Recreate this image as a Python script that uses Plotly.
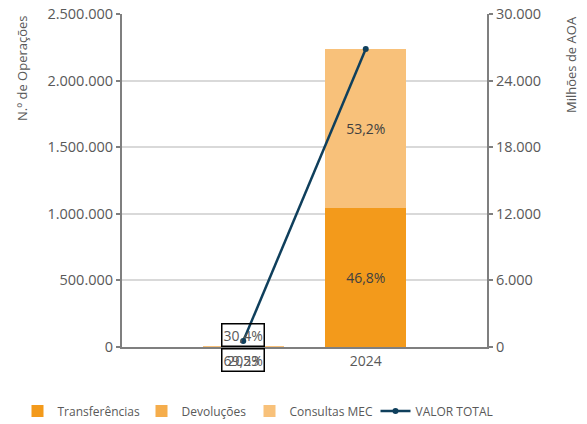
import plotly.graph_objects as go
from plotly.subplots import make_subplots

years = ["2023", "2024"]
transferencias = [2085, 1046000]
devolucoes = [3, 0]
consultas_mec = [912, 1189000]
valor_total = [540, 26850]
pct_transf = ["69,5%", "46,8%"]
pct_consultas = ["30,4%", "53,2%"]

c_transf = "#F39A1B"
c_dev = "#F5AD4C"
c_cons = "#F8C17A"
c_line = "#0F3F5C"
txt = "#595959"
font_family = "Open Sans, Liberation Sans, sans-serif"

W, H = 587, 424
ml, mr, mt, mb = 122, 100, 14, 77
pw, ph = W - ml - mr, H - mt - mb


def px_x(sx):
    return (sx - ml) / pw


def px_y(sy):
    return 1 - (sy - mt) / ph


fig = make_subplots(specs=[[{"secondary_y": True}]])

fig.add_trace(go.Bar(x=years, y=transferencias, name="Transferências", marker_color=c_transf,
                     marker_line_width=0, legend="legend",
                     width=0.66, text=["", pct_transf[1]], textposition="inside",
                     insidetextanchor="middle", textfont=dict(color="#404040", size=14)),
              secondary_y=False)
fig.add_trace(go.Bar(x=years, y=devolucoes, name="Devoluções", marker_color=c_dev,
                     marker_line_width=0, width=0.66, legend="legend2"),
              secondary_y=False)
fig.add_trace(go.Bar(x=years, y=consultas_mec, name="Consultas MEC", marker_color=c_cons,
                     marker_line_width=0, legend="legend3",
                     width=0.66, text=["", pct_consultas[1]], textposition="inside",
                     insidetextanchor="middle", textfont=dict(color="#404040", size=14)),
              secondary_y=False)
fig.add_trace(go.Scatter(x=years, y=valor_total, name="VALOR TOTAL", mode="lines+markers",
                         legend="legend4",
                         line=dict(color=c_line, width=2.5), marker=dict(size=6, color=c_line)),
              secondary_y=True)

# 2023 callout labels
fig.add_annotation(x=0, xref="x", y=0, yref="paper", yshift=12, yanchor="middle",
                   text=pct_consultas[0], showarrow=False,
                   bordercolor="#000000", borderwidth=1.5, borderpad=1,
                   font=dict(color=txt, size=14, family=font_family))
fig.add_annotation(x=0, xref="x", y=0, yref="paper", yshift=-12.5, yanchor="middle",
                   text=pct_transf[0], showarrow=False,
                   bordercolor="#000000", borderwidth=1.5, borderpad=1,
                   font=dict(color=txt, size=14, family=font_family))

# axis titles (top-aligned as in reference)
fig.add_annotation(x=px_x(22), xref="paper", y=px_y(68), yref="paper",
                   xanchor="center", yanchor="middle",
                   text="N.º de Operações", showarrow=False, textangle=-90,
                   font=dict(size=13, color=txt, family=font_family))
fig.add_annotation(x=px_x(571), xref="paper", y=px_y(65), yref="paper",
                   xanchor="center", yanchor="middle",
                   text="Milhões de AOA", showarrow=False, textangle=-90,
                   font=dict(size=13, color=txt, family=font_family))

leg_y = 1 - 411 / H
leg_common = dict(orientation="h", xref="container", yref="container", y=leg_y,
                  yanchor="middle", xanchor="left", font=dict(size=12, color=txt),
                  itemwidth=30, bgcolor="rgba(0,0,0,0)")
leg_text_x = [58, 182, 290, 416]
legs = {}
for i, tx in enumerate(leg_text_x):
    key = "legend" if i == 0 else f"legend{i + 1}"
    legs[key] = dict(leg_common, x=(tx - 40.5) / W)

fig.update_layout(
    width=W, height=H, autosize=False,
    margin=dict(l=ml, r=mr, t=mt, b=mb, autoexpand=False),
    barmode="stack",
    separators=",.",
    plot_bgcolor="white", paper_bgcolor="white",
    font=dict(family=font_family, color=txt, size=14),
    showlegend=True,
    **legs,
)
fig.update_xaxes(type="category", range=[-0.99, 1.99], domain=[0, 1], showline=True,
                 linecolor="#7F7F7F", linewidth=2, showgrid=False, ticks="", automargin=False,
                 tickfont=dict(size=14, color=txt))
fig.update_yaxes(range=[0, 2500000], dtick=500000, tickformat=",d", showline=True,
                 linecolor="#7F7F7F", linewidth=2, ticks="outside", ticklen=4, tickcolor="#7F7F7F",
                 tickwidth=2, gridcolor="#D9D9D9", gridwidth=2, zeroline=False, automargin=False,
                 ticklabeloverflow="allow",
                 tickfont=dict(size=14.5, color=txt), secondary_y=False)
fig.update_yaxes(range=[0, 30000], dtick=6000, tickformat=",d", showline=True,
                 linecolor="#7F7F7F", linewidth=2, ticks="outside", ticklen=4, tickcolor="#7F7F7F",
                 tickwidth=2, showgrid=False, zeroline=False, automargin=False,
                 ticklabeloverflow="allow",
                 tickfont=dict(size=14.5, color=txt), secondary_y=True)

fig.write_html("out.html", config={"displayModeBar": False},
               post_script="document.body.style.margin='0';")
